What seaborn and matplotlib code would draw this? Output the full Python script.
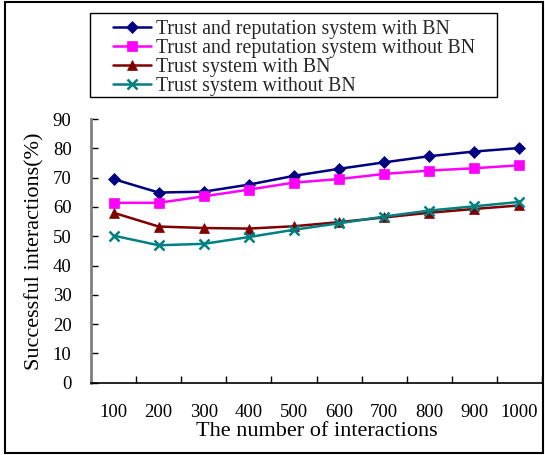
import matplotlib
matplotlib.use("Agg")
import matplotlib.pyplot as plt
import seaborn as sns
import pandas as pd
from matplotlib.patches import Rectangle

interactions = ["100", "200", "300", "400", "500", "600", "700", "800", "900", "1000"]
trs_with_bn = [69.5, 64.9, 65.2, 67.6, 70.6, 73.0, 75.2, 77.3, 78.9, 80.1]
trs_without_bn = [61.4, 61.4, 63.6, 65.9, 68.3, 69.5, 71.25, 72.4, 73.2, 74.2]
ts_with_bn = [58.0, 53.3, 52.8, 52.6, 53.4, 54.8, 56.4, 58.0, 59.3, 60.5]
ts_without_bn = [50.2, 46.9, 47.4, 49.7, 52.2, 54.4, 56.7, 58.75, 60.2, 61.7]

series_names = ["Trust and reputation system with BN",
                "Trust and reputation system without BN",
                "Trust system with BN",
                "Trust system without BN"]
series_values = [trs_with_bn, trs_without_bn, ts_with_bn, ts_without_bn]
colors = ["#000080", "#FF00FF", "#800000", "#008080"]
markers = ["D", "s", "^", "x"]
msizes = [6, 7, 7, 7]

rows = []
for name, vals in zip(series_names, series_values):
    for i, (lab, v) in enumerate(zip(interactions, vals)):
        rows.append({"pos": i, "label": lab, "value": v, "series": name})
df = pd.DataFrame(rows)

sns.set_theme(style="white")
plt.rcParams["font.family"] = ["Liberation Serif", "DejaVu Serif"]

fig = plt.figure(figsize=(5.45, 4.55), dpi=100)
ax = fig.add_axes([91/545, (455-382.7)/455, 451/545, (382.7-119)/455])

for name, c, m, ms in zip(series_names, colors, markers, msizes):
    sub = df[df["series"] == name]
    sns.lineplot(data=sub, x="pos", y="value", ax=ax, color=c, marker=m,
                 markersize=ms, markeredgecolor=c, markeredgewidth=1.8 if m == "x" else 0.5,
                 linewidth=1.8, label=name)

ax.set_xlim(-0.5, 9.5)
ax.set_ylim(0, 90)
ax.set_yticks(range(0, 91, 10))
ax.set_xticks(range(len(interactions)))
ax.set_xticklabels(interactions)
ax.set_xticks([i - 0.5 for i in range(len(interactions) + 1)], minor=True)
ax.tick_params(axis="x", which="major", length=0, pad=15, labelsize=13.5, colors="black")
ax.tick_params(axis="x", which="minor", length=5, width=1, direction="in", color="black")
ax.tick_params(axis="y", which="major", length=5, width=1, direction="in", pad=14,
               labelsize=13.5, color="black", labelcolor="black")
ax.tick_params(bottom=True, left=True, which="both")
ax.tick_params(axis="x", which="major", bottom=False)

for s in ["top", "right"]:
    ax.spines[s].set_visible(False)
ax.spines["left"].set_color("#808080")
ax.spines["left"].set_linewidth(2)
ax.spines["bottom"].set_color("black")
ax.spines["bottom"].set_linewidth(1.2)

ax.set_xlabel("The number of interactions", fontsize=16, labelpad=1, color="black")
ax.set_ylabel("Successful interactions(%)", fontsize=16, labelpad=6, color="black")

leg = ax.legend(loc="upper left", bbox_to_anchor=(113/545, 1 - 20/455),
                bbox_transform=fig.transFigure, fontsize=14.3,
                frameon=False, borderpad=0, labelspacing=0.0,
                handlelength=1.9, handletextpad=0.25, borderaxespad=0)

fig.patches.append(Rectangle((90/545, 1 - 97/455), 407/545, 84/455, transform=fig.transFigure,
                             fill=False, edgecolor="black", linewidth=1.0))
fig.patches.append(Rectangle((5/545, 2/455), 538/545, 451/455, transform=fig.transFigure,
                             fill=False, edgecolor="black", linewidth=1.5))

fig.savefig("out.png", dpi=100)
